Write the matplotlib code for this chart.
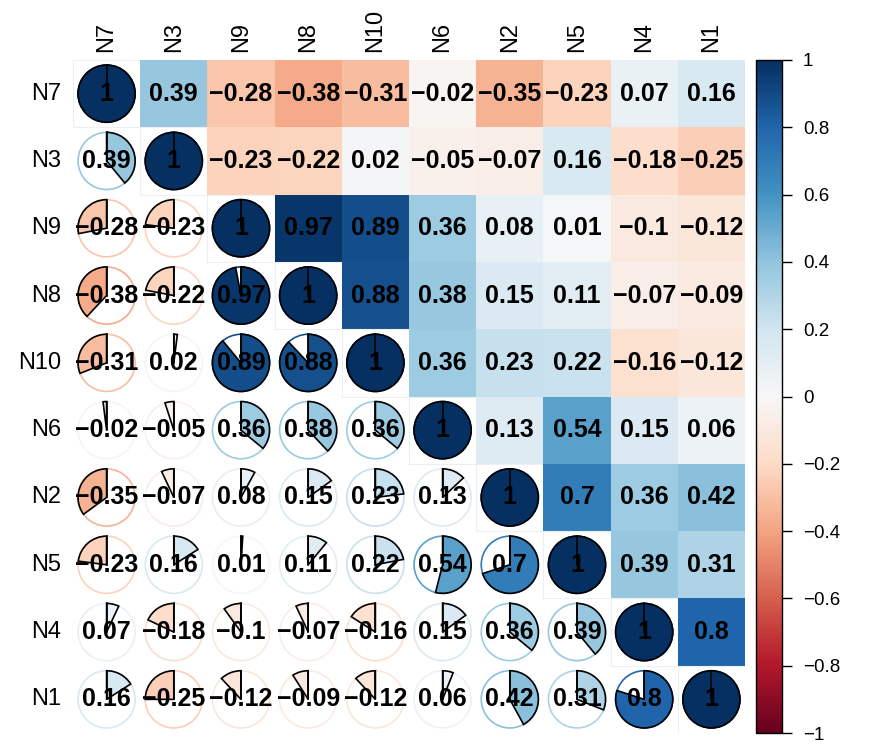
import numpy as np
import matplotlib.pyplot as plt
import matplotlib.patches as mpatches
from matplotlib import cm, colors

plt.rcParams["font.family"] = ["Liberation Sans", "DejaVu Sans"]

# ── Data ──────────────────────────────────────────────────────────────────────
labels = ["N7", "N3", "N9", "N8", "N10", "N6", "N2", "N5", "N4", "N1"]

row_N7 = [1, 0.39, -0.28, -0.38, -0.31, -0.02, -0.35, -0.23, 0.07, 0.16]
row_N3 = [0.39, 1, -0.23, -0.22, 0.02, -0.05, -0.07, 0.16, -0.18, -0.25]
row_N9 = [-0.28, -0.23, 1, 0.97, 0.89, 0.36, 0.08, 0.01, -0.1, -0.12]
row_N8 = [-0.38, -0.22, 0.97, 1, 0.88, 0.38, 0.15, 0.11, -0.07, -0.09]
row_N10 = [-0.31, 0.02, 0.89, 0.88, 1, 0.36, 0.23, 0.22, -0.16, -0.12]
row_N6 = [-0.02, -0.05, 0.36, 0.38, 0.36, 1, 0.13, 0.54, 0.15, 0.06]
row_N2 = [-0.35, -0.07, 0.08, 0.15, 0.23, 0.13, 1, 0.7, 0.36, 0.42]
row_N5 = [-0.23, 0.16, 0.01, 0.11, 0.22, 0.54, 0.7, 1, 0.39, 0.31]
row_N4 = [0.07, -0.18, -0.1, -0.07, -0.16, 0.15, 0.36, 0.39, 1, 0.8]
row_N1 = [0.16, -0.25, -0.12, -0.09, -0.12, 0.06, 0.42, 0.31, 0.8, 1]

corr = np.array([row_N7, row_N3, row_N9, row_N8, row_N10,
                 row_N6, row_N2, row_N5, row_N4, row_N1])

cbar_ticks = [-1, -0.8, -0.6, -0.4, -0.2, 0, 0.2, 0.4, 0.6, 0.8, 1]

# ── Figure ────────────────────────────────────────────────────────────────────
W, H = 880, 749
fig = plt.figure(figsize=(W / 100, H / 100), dpi=100)
fig.patch.set_facecolor("white")

cmap = plt.get_cmap("RdBu")
norm = colors.Normalize(vmin=-1, vmax=1)
n = len(labels)

ax = fig.add_axes([73 / W, 1 - 733 / H, 672 / W, 673 / H])
ax.set_xlim(0, n)
ax.set_ylim(n, 0)
ax.axis("off")


def fmt(v):
    s = f"{v:g}"
    return s.replace("-", "\u2212")


R = 0.425
for i in range(n):
    for j in range(n):
        v = corr[i, j]
        c = cmap(norm(v))
        cx, cy = j + 0.5, i + 0.5
        if j > i:
            # upper triangle: full coloured tile
            ax.add_patch(mpatches.Rectangle((j, i), 1, 1, facecolor=c,
                                            edgecolor="none"))
        else:
            if i == j:
                ax.add_patch(mpatches.Rectangle((j, i), 1, 1, facecolor="none",
                                                edgecolor="#edf0f3", lw=0.8))
            # circle outline in value colour
            ax.add_patch(mpatches.Circle((cx, cy), R, facecolor="none",
                                         edgecolor=c, lw=1.2))
            # pie wedge (y axis is inverted, so angles are mirrored)
            frac = abs(v) * 360
            if v >= 0:
                t1, t2 = 270, 270 + frac
            else:
                t1, t2 = 270 - frac, 270
            ax.add_patch(mpatches.Wedge((cx, cy), R, t1, t2, facecolor=c,
                                        edgecolor="black", lw=1.2))
            ax.plot([cx, cx], [cy, cy - R], color="black", lw=1.2)
        ax.text(cx, cy, fmt(v), ha="center", va="center",
                fontsize=18, fontweight="bold", color="black")

# row / column labels
for k, lab in enumerate(labels):
    ax.text(-0.18, k + 0.5, lab, ha="right", va="center", fontsize=17)
    ax.text(k + 0.5, -0.12, lab, ha="center", va="bottom", fontsize=17,
            rotation=90)

# ── Colour bar ────────────────────────────────────────────────────────────────
cax = fig.add_axes([756 / W, 1 - 733 / H, 26 / W, 673 / H])
cb = fig.colorbar(cm.ScalarMappable(norm=norm, cmap=cmap), cax=cax,
                  ticks=cbar_ticks)
cb.outline.set_edgecolor("black")
cb.outline.set_linewidth(1)
cb.ax.set_yticklabels([fmt(t) for t in cbar_ticks])
cb.ax.tick_params(labelsize=13.5, length=7, width=1, pad=8)

plt.savefig("out.png", dpi=100)
plt.close()
